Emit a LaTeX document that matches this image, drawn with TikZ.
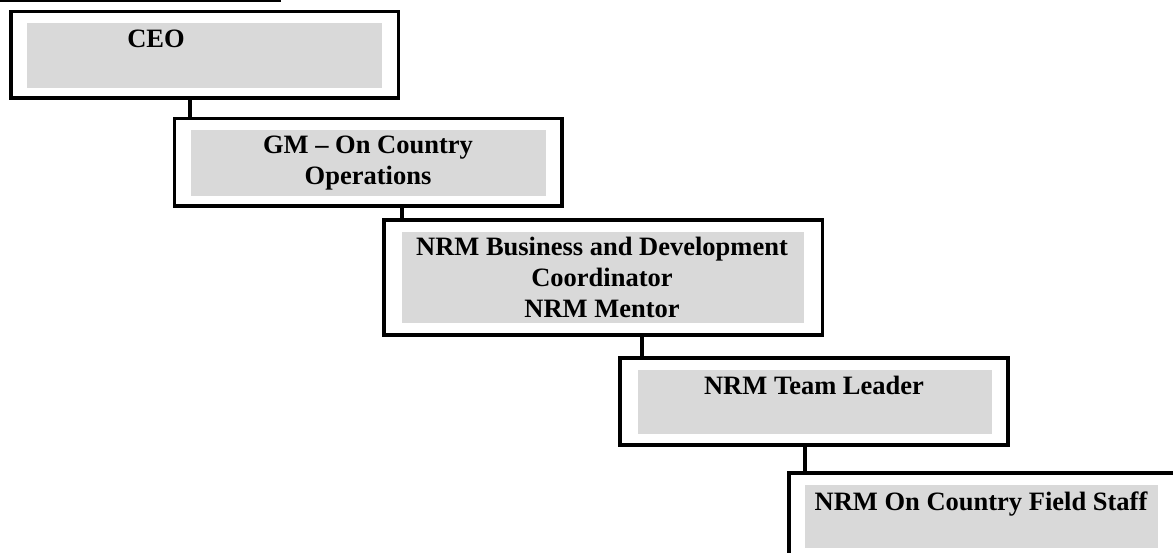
\documentclass[tikz,border=0pt]{standalone}
\usepackage{fontspec}
\setmainfont{Liberation Serif}
\definecolor{boxgray}{HTML}{D9D9D9}
\tikzset{
  box/.style={draw=black, line width=3.5pt, fill=white, inner sep=0pt, outer sep=0pt, anchor=north west},
  shadebox/.style={fill=boxgray, draw=none, inner sep=0pt, outer sep=0pt, anchor=north west},
  lbl/.style={font=\bfseries\fontsize{26.5}{31}\selectfont, align=center, anchor=base, inner sep=0pt},
  link/.style={line width=3.5pt}
}
\begin{document}
\begin{tikzpicture}[x=1pt, y=-1pt]
\useasboundingbox (0,0) rectangle (1173,553);
\clip (0,0) rectangle (1173,553);
\fill[black] (0,0) rectangle (281,2.5);
% outer boxes
\node[box, minimum width=387.7pt, minimum height=86.3pt] (ceo) at (10.8,11.7) {};
\node[box, minimum width=387.5pt, minimum height=87.5pt] (gm) at (174.5,118.5) {};
\node[box, minimum width=438.5pt, minimum height=115pt] (nrm) at (384,220) {};
\node[box, minimum width=388pt, minimum height=87pt] (tl) at (620,358) {};
\node[box, minimum width=500pt, minimum height=200pt] (fs) at (789,473) {};
% grey inner panels
\node[shadebox, minimum width=355pt, minimum height=65pt] (ceog) at (27,23) {};
\node[shadebox, minimum width=355pt, minimum height=66pt] (gmg) at (191,130) {};
\node[shadebox, minimum width=402pt, minimum height=91pt] (nrmg) at (402,232) {};
\node[shadebox, minimum width=354pt, minimum height=64pt] (tlg) at (638,370) {};
\node[shadebox, minimum width=353pt, minimum height=63pt] (fsg) at (805,485) {};
% labels (base anchor = baseline of the last line)
\node[lbl] (ceot) at (156,48) {CEO};
\node[lbl] (gmt) at (368,185) {GM -- On Country\\Operations};
\node[lbl] (nrmt) at (602,318) {NRM Business and Development\\Coordinator\\NRM Mentor};
\node[lbl] (tlt) at (814,395) {NRM Team Leader};
\node[lbl] (fst) at (981,510) {NRM On Country Field Staff};
% connectors
\draw[link] ([xshift=15.5pt]gm.north west |- ceo.south) -- ([xshift=15.5pt]gm.north west);
\draw[link] ([xshift=18pt]nrm.north west |- gm.south) -- ([xshift=18pt]nrm.north west);
\draw[link] ([xshift=22pt]tl.north west |- nrm.south) -- ([xshift=22pt]tl.north west);
\draw[link] ([xshift=16pt]fs.north west |- tl.south) -- ([xshift=16pt]fs.north west);
\end{tikzpicture}
\end{document}
